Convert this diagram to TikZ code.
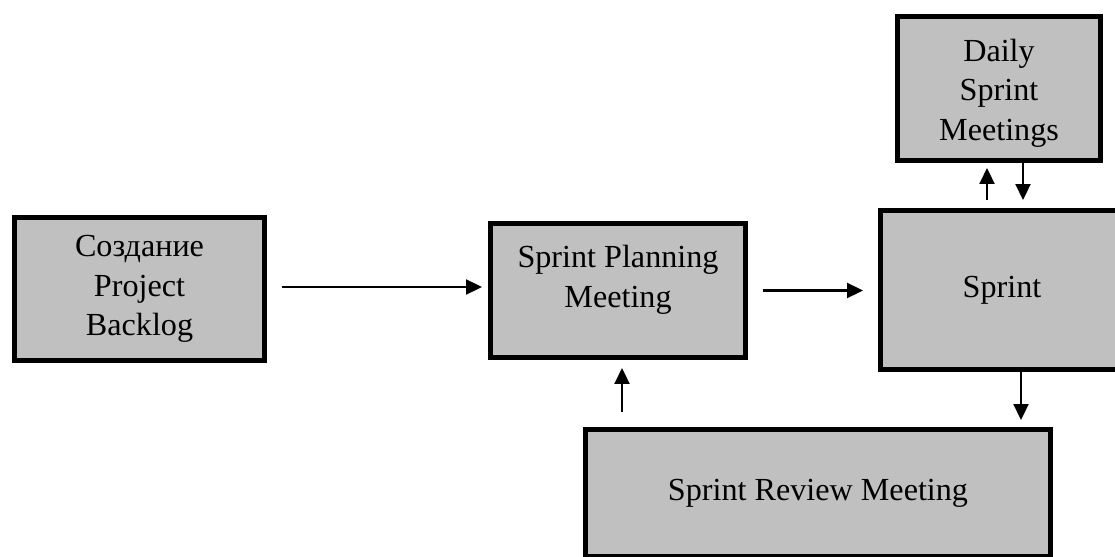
\documentclass[tikz,border=0pt]{standalone}
\usepackage{fontspec}
\setmainfont{Liberation Serif}
\usetikzlibrary{arrows.meta}
\definecolor{boxgray}{RGB}{192,192,192}

\begin{document}
\begin{tikzpicture}[x=0.02cm, y=-0.02cm,
    font=\fontsize{18.3}{22.5}\selectfont,
    every node/.style={align=center},
    stagebox/.style={draw=black, fill=boxgray, line width=0.1cm, inner sep=0pt},
    flow/.style={line width=1.2pt, -{Triangle[length=0.32cm, width=0.3cm]}}]
  \useasboundingbox (0,0) rectangle (1115,557);
  \clip (0,0) rectangle (1115,557);

  % boxes, sizes taken between the line centres
  \node[stagebox, minimum width=5cm, minimum height=2.86cm] (backlog) at (139.5,289) {Создание\\Project\\Backlog};
  \node[stagebox, minimum width=5.1cm, minimum height=2.68cm] (plan) at (618,290.5) {};
  \node (plantext) at (618,280) {Sprint Planning\\Meeting};
  \node[stagebox, minimum width=4.86cm, minimum height=3.18cm] (sprint) at (1002,290) {Sprint};
  \node[stagebox, minimum width=4.06cm, minimum height=2.88cm] (daily) at (999,88.5) {};
  \node (dailytext) at (999,93) {Daily\\Sprint\\Meetings};
  \node[stagebox, minimum width=9.3cm, minimum height=2.54cm] (review) at (818,493) {Sprint Review Meeting};

  \draw[flow, shorten <=0.3cm, shorten >=0.12cm] ([yshift=0.04cm]backlog.east) -- ([yshift=0.04cm]backlog.east -| plan.west);
  \draw[flow, shorten <=0.3cm, shorten >=0.3cm] (plan.east) -- (plan.east -| sprint.west);
  \draw[flow, shorten <=0.16cm, shorten >=0.1cm] ([xshift=-0.3cm]sprint.north) -- ([xshift=-0.3cm]sprint.north |- daily.south);
  \draw[flow, shorten >=0.16cm] ([xshift=0.48cm]daily.south) -- ([xshift=0.48cm]daily.south |- sprint.north);
  \draw[flow, shorten <=0.3cm, shorten >=0.16cm] ([xshift=0.08cm]plan.south |- review.north) -- ([xshift=0.08cm]plan.south);
  \draw[flow, shorten >=0.14cm] ([xshift=0.38cm]sprint.south) -- ([xshift=0.38cm]sprint.south |- review.north);
\end{tikzpicture}
\end{document}
